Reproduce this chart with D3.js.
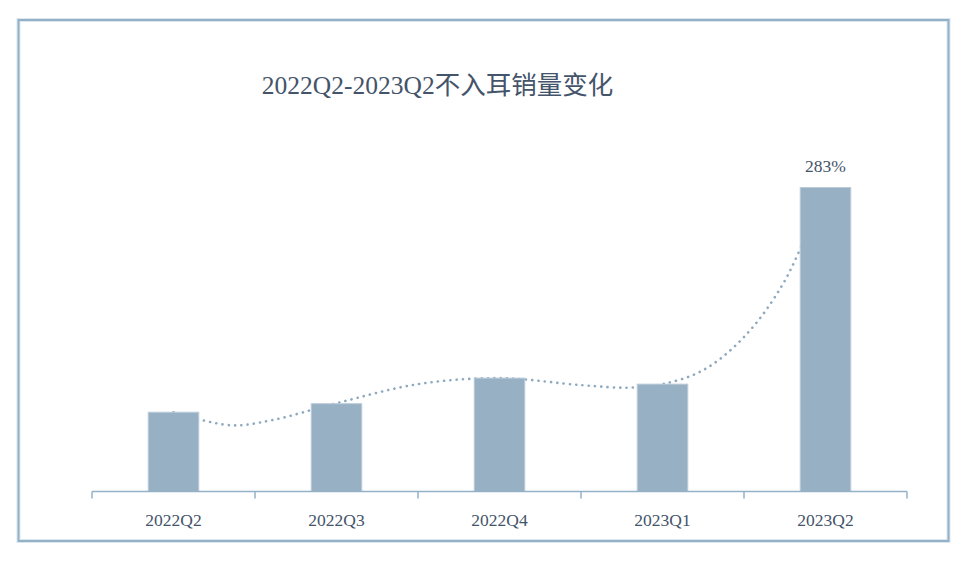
<!DOCTYPE html>
<html>
<head>
<meta charset="utf-8">
<script src="https://cdn.jsdelivr.net/npm/d3@7"></script>
<style>
  body { margin: 0; background: #fff; }
  svg text { font-family: "Liberation Serif", "DejaVu Serif", "Noto Sans CJK SC", serif; fill: #44546A; }
</style>
</head>
<body>
<div id="chart"></div>
<script>
// quarters and sales (relative units)
const quarters = ["2022Q2", "2022Q3", "2022Q4", "2023Q1", "2023Q2"];
const sales = [79, 87.5, 113, 107, 303];
const growthLabel = "283%";
const title = "2022Q2-2023Q2不入耳销量变化";

// hand-drawn trend line (position in quarters, value)
const trendPos = [0, 0.35, 0.6, 1, 1.5, 2, 2.5, 2.8, 3, 3.25, 3.5, 3.75, 4];
const trendVal = [79, 66, 71, 88, 107, 113, 106, 103.5, 107, 121, 154, 210, 303];

const width = 980, height = 574;
const margin = {top: 187.5, right: 73, bottom: 82.5, left: 92};

const svg = d3.select("#chart").append("svg")
	.attr("width", width)
	.attr("height", height);

// outer frame
svg.append("rect")
	.attr("x", 18.5)
	.attr("y", 20)
	.attr("width", 930)
	.attr("height", 521)
	.attr("fill", "none")
	.attr("stroke", "#DCE6EE")
	.attr("stroke-width", 4);
svg.append("rect")
	.attr("x", 18.5)
	.attr("y", 20)
	.attr("width", 930)
	.attr("height", 521)
	.attr("fill", "none")
	.attr("stroke", "#93B2C7")
	.attr("stroke-width", 2);

// title
svg.append("text")
	.attr("x", 437.5)
	.attr("y", 94)
	.attr("text-anchor", "middle")
	.style("font-size", "25.5px")
	.text(title);

const x = d3.scaleBand()
	.domain(quarters)
	.range([margin.left, width - margin.right])
	.paddingInner(0.69)
	.paddingOuter(0.345);

const y = d3.scaleLinear()
	.domain([0, d3.max(sales)])
	.range([height - margin.bottom, margin.top]);

const baseline = y(0);

// quarter index -> band centre, for the trend line
const xPos = d3.scaleLinear()
	.domain([0, quarters.length - 1])
	.range([x(quarters[0]) + x.bandwidth() / 2, x(quarters[quarters.length - 1]) + x.bandwidth() / 2]);

// smoothed dotted trend, drawn behind the bars
const line = d3.line()
	.x((d, i) => xPos(trendPos[i]))
	.y(d => y(d))
	.curve(d3.curveCatmullRom);

svg.append("path")
	.datum(trendVal)
	.attr("d", line)
	.attr("fill", "none")
	.attr("stroke", "#8EAAC0")
	.attr("stroke-width", 2.6)
	.attr("stroke-linecap", "round")
	.attr("stroke-dasharray", "0.1 6.2");

// bars
svg.selectAll("rect.bar")
	.data(sales)
	.enter()
	.append("rect")
	.attr("class", "bar")
	.attr("x", (d, i) => x(quarters[i]))
	.attr("y", d => y(d))
	.attr("width", x.bandwidth())
	.attr("height", d => baseline - y(d))
	.attr("fill", "#97B0C3")
	.attr("stroke", "#BACBD8")
	.attr("stroke-width", 1);

// growth label on the last bar
svg.append("text")
	.attr("x", x(quarters[quarters.length - 1]) + x.bandwidth() / 2)
	.attr("y", y(sales[sales.length - 1]) - 16)
	.attr("text-anchor", "middle")
	.style("font-size", "17.5px")
	.text(growthLabel);

// x axis with ticks at band edges
const axisG = svg.append("g");
axisG.append("line")
	.attr("x1", margin.left)
	.attr("x2", width - margin.right)
	.attr("y1", baseline)
	.attr("y2", baseline)
	.attr("stroke", "#93B2C7")
	.attr("stroke-width", 1.5);

const edges = quarters.map(q => x(q) - x.step() * x.paddingInner() / 2)
	.concat([width - margin.right]);
axisG.selectAll("line.tick")
	.data(edges)
	.enter()
	.append("line")
	.attr("class", "tick")
	.attr("x1", d => d)
	.attr("x2", d => d)
	.attr("y1", baseline)
	.attr("y2", baseline + 7)
	.attr("stroke", "#93B2C7")
	.attr("stroke-width", 1.5);

axisG.selectAll("text.label")
	.data(quarters)
	.enter()
	.append("text")
	.attr("class", "label")
	.attr("x", d => x(d) + x.bandwidth() / 2)
	.attr("y", baseline + 34)
	.attr("text-anchor", "middle")
	.style("font-size", "17.5px")
	.text(d => d);
</script>
</body>
</html>
